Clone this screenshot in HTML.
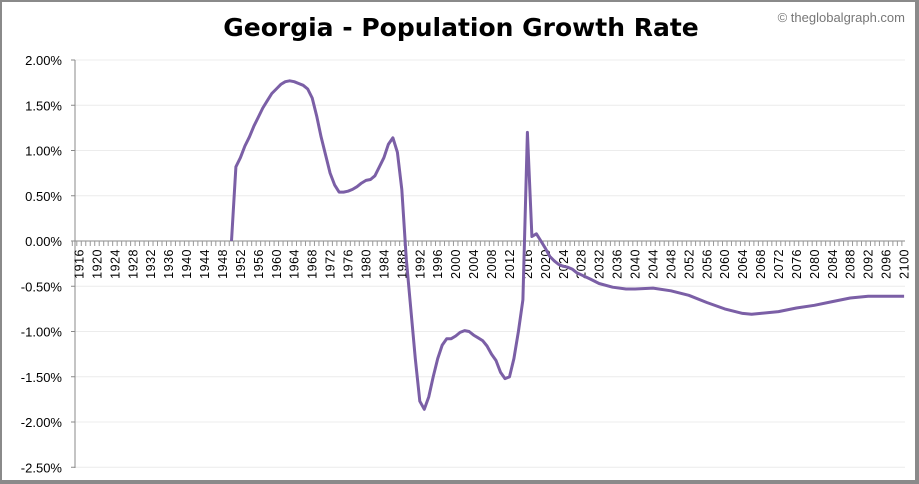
<!DOCTYPE html>
<html><head><meta charset="utf-8"><style>
body{margin:0;background:#fff;font-family:"Liberation Sans","DejaVu Sans",sans-serif}
#wrap{position:relative;width:919px;height:484px;box-sizing:border-box;border:2px solid #8a8a8a;border-right-width:4px;border-bottom-width:4px;background:#fff}
</style></head><body>
<div id="wrap">
<svg id="chart" width="913" height="478" style="position:absolute;left:0;top:0">
<text x="459" y="34" text-anchor="middle" font-size="25" font-weight="bold" fill="#000" font-family="DejaVu Sans, sans-serif">Georgia - Population Growth Rate</text>
<text x="903" y="20" text-anchor="end" font-size="13" fill="#777">© theglobalgraph.com</text>
<g id="grid"></g><g id="axes"></g><g id="series"></g>
</svg>
</div>
<script>
const years=[1950,1951,1952,1953,1954,1955,1956,1957,1958,1959,1960,1961,1962,1963,1964,1965,1966,1967,1968,1969,1970,1971,1972,1973,1974,1975,1976,1977,1978,1979,1980,1981,1982,1983,1984,1985,1986,1987,1988,1989,1990,1991,1992,1993,1994,1995,1996,1997,1998,1999,2000,2001,2002,2003,2004,2005,2006,2007,2008,2009,2010,2011,2012,2013,2014,2015,2016,2017,2018,2019,2020,2021,2022,2023,2024,2025,2026,2027,2030,2032,2035,2038,2040,2044,2048,2052,2056,2060,2064,2066,2068,2072,2076,2080,2084,2088,2092,2096,2100];
const rates=[0,0.82,0.92,1.05,1.15,1.27,1.37,1.47,1.55,1.63,1.68,1.73,1.76,1.77,1.76,1.74,1.72,1.68,1.58,1.38,1.15,0.95,0.75,0.62,0.54,0.54,0.55,0.57,0.60,0.64,0.67,0.68,0.72,0.82,0.92,1.07,1.14,0.98,0.57,-0.2,-0.75,-1.3,-1.77,-1.86,-1.72,-1.5,-1.3,-1.15,-1.08,-1.08,-1.05,-1.01,-0.99,-1.0,-1.04,-1.07,-1.1,-1.16,-1.25,-1.32,-1.45,-1.52,-1.5,-1.3,-1.0,-0.65,1.2,0.05,0.08,0.0,-0.08,-0.17,-0.22,-0.26,-0.28,-0.29,-0.31,-0.35,-0.42,-0.47,-0.51,-0.53,-0.53,-0.52,-0.55,-0.6,-0.68,-0.75,-0.8,-0.81,-0.8,-0.78,-0.74,-0.71,-0.67,-0.63,-0.61,-0.61,-0.61];
const yTicks=[2,1.5,1,0.5,0,-0.5,-1,-1.5,-2,-2.5];
const yLabels=["2.00%","1.50%","1.00%","0.50%","0.00%","-0.50%","-1.00%","-1.50%","-2.00%","-2.50%"];
const xStart=1915,xEnd=2100;
const NS="http://www.w3.org/2000/svg";
const L=73,R=903,T=58,B=466;
function x(yr){return 77+(yr-1916)*4.484;}
function y(v){return 239-v*(239-T)/2;}
function mk(t,a,p){const e=document.createElementNS(NS,t);for(const k in a)e.setAttribute(k,a[k]);p.appendChild(e);return e;}
const grid=document.getElementById('grid'),axes=document.getElementById('axes'),ser=document.getElementById('series');
yTicks.forEach((v,i)=>{
 if(v!==0){const g=mk('line',{x1:L,x2:R,y1:y(v),y2:y(v),stroke:'#ececec','stroke-width':1},grid);
 
 }
 const t=mk('text',{x:60,y:y(v)+5,'text-anchor':'end','font-size':13,fill:'#000'},axes);
 t.textContent=yLabels[i];
 
 
 mk('line',{x1:L-4,x2:L,y1:y(v),y2:y(v),stroke:'#888'},axes);
});
const ya=mk('line',{x1:L,x2:L,y1:T,y2:B,stroke:'#888'},axes);


const xa=mk('line',{x1:L,x2:R,y1:y(0),y2:y(0),stroke:'#888'},axes);


for(let yr=xStart;yr<=xEnd;yr++){
 mk('line',{x1:x(yr)-2.2,x2:x(yr)-2.2,y1:y(0),y2:y(0)+5,stroke:'#999'},axes);
 if((yr-1916)%4===0){
  const t=mk('text',{transform:`translate(${x(yr)+4.5},${y(0)+8}) rotate(-90)`,'text-anchor':'end','font-size':12.5,fill:'#000','letter-spacing':'0.5'},axes);
  t.textContent=yr;
  
  
 }
}
const d=years.map((yr,i)=>(i?'L':'M')+x(yr).toFixed(1)+','+y(rates[i]).toFixed(1)).join(' ');
const p=mk('path',{d:d,fill:'none',stroke:'#7b5fa6','stroke-width':3,'stroke-linejoin':'round'},ser);


</script>
</body></html>
